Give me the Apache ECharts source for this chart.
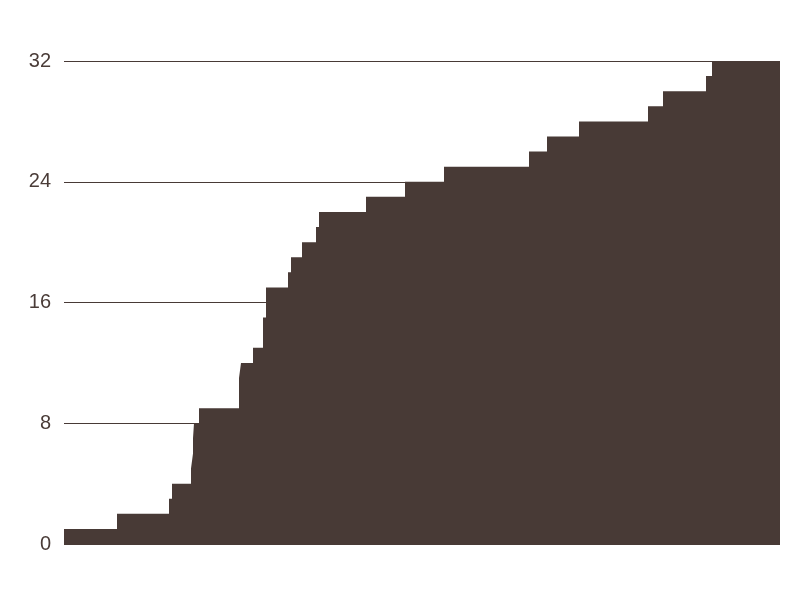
<!DOCTYPE html>
<html>
<head>
<meta charset="utf-8">
<script src="https://cdn.jsdelivr.net/npm/echarts@6/dist/echarts.min.js"></script>
<style>html,body{margin:0;padding:0;background:#fff;}#chart{width:800px;height:600px;}</style>
</head>
<body>
<div id="chart"></div>
<script>
// Event times (arbitrary day offsets) and cumulative counts
var eventDays = [0, 53, 105, 108, 127, 129, 129, 130, 135, 175, 175, 177, 189, 199, 199, 202, 202, 224, 227, 238, 252, 255, 302, 341, 380, 465, 483, 515, 584, 599, 642, 648, 716];
var cumulativeCount = [1, 2, 3, 4, 5, 6, 7, 8, 9, 10, 11, 12, 13, 14, 15, 16, 17, 18, 19, 20, 21, 22, 23, 24, 25, 26, 27, 28, 29, 30, 31, 32, 32];
var yTicks = [0, 8, 16, 24, 32];

var seriesData = eventDays.map(function (d, i) { return [d, cumulativeCount[i]]; });
var fill = '#483a36';

var chart = echarts.init(document.getElementById('chart'), null, {renderer: 'canvas'});
chart.setOption({
  animation: false,
  backgroundColor: '#ffffff',
  grid: {left: 64, right: 20, top: 61, bottom: 56, containLabel: false},
  xAxis: {
    type: 'value', min: eventDays[0], max: eventDays[eventDays.length - 1],
    show: false
  },
  yAxis: {
    type: 'value', min: yTicks[0], max: yTicks[yTicks.length - 1], interval: 8,
    axisLine: {show: false}, axisTick: {show: false},
    axisLabel: {color: '#4a3c38', fontSize: 20, fontFamily: 'Liberation Sans, Arial, sans-serif', margin: 13},
    splitLine: {show: true, lineStyle: {color: fill, width: 1}}
  },
  series: [{
    type: 'line',
    step: 'end',
    data: seriesData,
    showSymbol: false,
    lineStyle: {width: 0, color: fill},
    areaStyle: {color: fill, opacity: 1},
    itemStyle: {color: fill}
  }]
});
</script>
</body>
</html>
